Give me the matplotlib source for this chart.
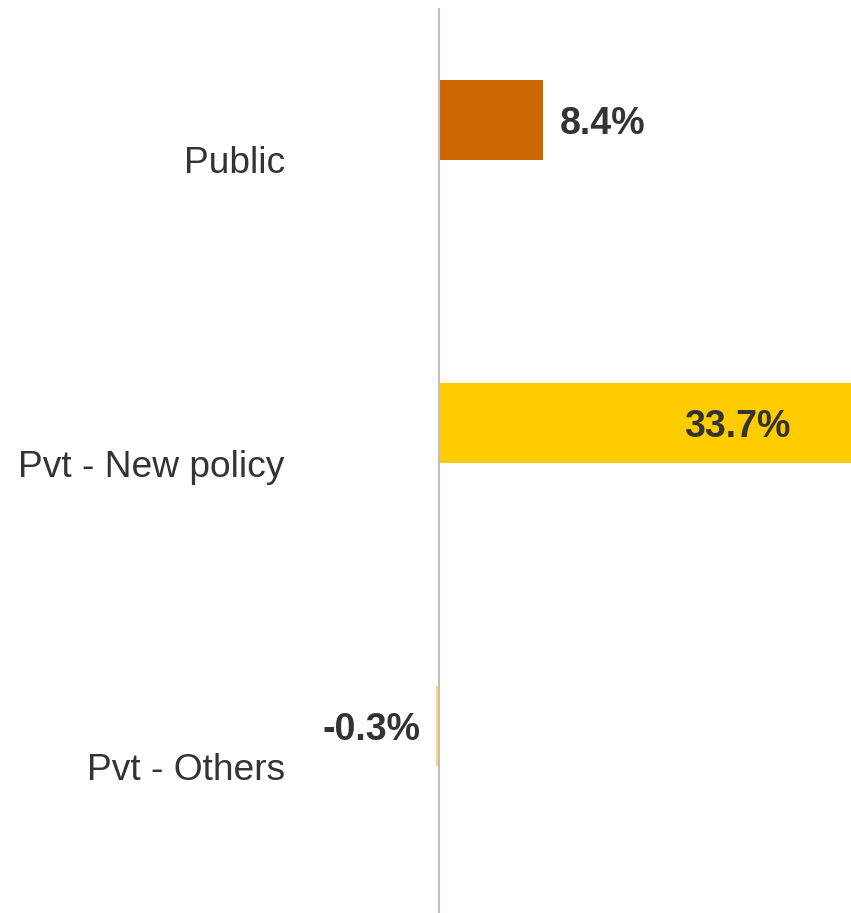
import matplotlib
matplotlib.use("Agg")
import matplotlib.pyplot as plt

categories = ["Public", "Pvt - New policy", "Pvt - Others"]
growth = [8.4, 33.7, -0.3]
colors = ["#CC6600", "#FFCC00", "#F9D66F"]

plt.rcParams["font.family"] = ["Liberation Sans", "DejaVu Sans"]

fig = plt.figure(figsize=(8.51, 9.13), dpi=100)
ax = fig.add_axes([300 / 851, -5 / 913, 551 / 851, 910 / 913])

bar_h = 0.264
pos = list(range(len(categories)))
ax.barh([p - bar_h / 2 for p in pos], growth, height=bar_h, color=colors, zorder=2)
ax.axvline(0, color="#BFBFBF", linewidth=1.5, zorder=3)

label_kw = dict(textcoords="offset points", va="center_baseline", fontsize=27,
                fontweight="bold", color="#333333", annotation_clip=False)
for p, v in zip(pos, growth):
    y = p - bar_h / 2
    if v >= 30:
        # long bar runs off the edge, keep the label inside it
        ax.annotate(f"{v:.1f}%", (v, y), xytext=(-46, 0), ha="right", **label_kw)
    elif v >= 0:
        ax.annotate(f"{v:.1f}%", (v, y), xytext=(12, 0), ha="left", **label_kw)
    else:
        ax.annotate(f"{v:.1f}%", (v, y), xytext=(-11, 0), ha="right", **label_kw)

ax.set_xlim(-11.32, 33.44)
ax.set_ylim(2.5, -0.5)
ax.set_yticks(pos)
ax.set_yticklabels(categories, fontsize=26.7, color="#333333")
ax.tick_params(axis="y", length=0, pad=11)
ax.set_xticks([])
for s in ax.spines.values():
    s.set_visible(False)

fig.savefig("out.png", dpi=100)
